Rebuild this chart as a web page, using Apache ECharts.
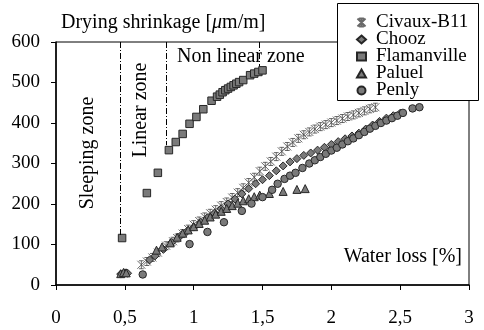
<!DOCTYPE html>
<html>
<head>
<meta charset="utf-8">
<script src="https://cdn.jsdelivr.net/npm/echarts@6/dist/echarts.min.js"></script>
<style>
  html, body { margin: 0; padding: 0; background: #fff; }
  #main { width: 484px; height: 330px; }
</style>
</head>
<body>
<div id="main"></div>
<script>
// data: [water loss %, drying shrinkage um/m]
var civaux = [[0.62,50],[0.66,58],[0.70,68],[0.74,80],[0.80,97],[0.85,108],[0.88,116],[0.92,127],[0.96,138],[1.00,149],
  [1.04,158],[1.08,168],[1.12,177],[1.16,186],[1.20,196],[1.24,205],[1.28,216],[1.32,228],[1.36,240],[1.40,253],
  [1.44,266],[1.48,281],[1.52,293],[1.56,305],[1.60,317],[1.64,330],[1.68,342],[1.72,352],[1.76,362],[1.80,371],
  [1.84,378],[1.88,385],[1.92,391],[1.96,396],[2.00,401],[2.04,406],[2.08,411],[2.12,416],[2.16,420],[2.20,425],
  [2.24,430],[2.28,435],[2.32,439]];
var chooz = [[0.47,27],[0.50,30],[0.52,29],[0.68,62],[0.72,72],[0.78,88],[0.84,105],[0.90,120],[0.95,132],[1.00,143],
  [1.05,155],[1.10,166],[1.15,177],[1.20,188],[1.25,200],[1.30,212],[1.35,225],[1.40,238],[1.45,250],[1.50,260],
  [1.55,270],[1.60,282],[1.65,294],[1.70,304],[1.75,312],[1.80,320],[1.85,326],[1.90,333],[1.95,340],[2.00,347],
  [2.05,354],[2.10,361],[2.15,368],[2.20,375],[2.25,385],[2.30,395],[2.35,404],[2.40,412],[2.45,418],[2.50,424]];
var flamanville = [[0.48,116],[0.66,227],[0.74,277],[0.82,333],[0.87,353],[0.92,373],[0.97,398],[1.02,415],[1.07,434],
  [1.13,455],[1.17,465],[1.19,470],[1.21,476],[1.23,481],[1.25,485],[1.27,489],[1.29,493],[1.31,497],[1.33,501],
  [1.36,506],[1.41,518],[1.44,522],[1.47,526],[1.50,530]];
var paluel = [[0.47,28],[0.49,31],[0.51,30],[0.73,86],[0.77,94],[0.83,104],[0.88,118],[0.92,128],[0.96,136],[1.00,144],
  [1.04,152],[1.08,160],[1.12,168],[1.16,175],[1.20,182],[1.24,189],[1.28,196],[1.32,202],[1.36,208],[1.40,213],
  [1.44,218],[1.48,222],[1.55,226],[1.65,231],[1.75,236],[1.81,238]];
var penly = [[0.63,26],[0.97,101],[1.10,131],[1.22,155],[1.35,183],[1.42,201],[1.50,217],[1.57,235],[1.61,250],
  [1.66,262],[1.70,270],[1.74,277],[1.79,289],[1.84,300],[1.88,308],[1.92,316],[1.96,324],[2.00,332],[2.04,339],
  [2.08,347],[2.12,355],[2.16,362],[2.20,370],[2.24,378],[2.28,386],[2.32,393],[2.36,400],[2.40,406],[2.44,412],
  [2.48,418],[2.52,425],[2.59,436],[2.64,439]];
// dash-dot zone separators: [x, from, to]
var zoneLines = [[0.47,600,122],[0.80,600,345],[1.48,600,540]];

var font = 'Liberation Serif';
var starPath = 'path://M0,0L10,10M10,0L0,10M5,0L5,10M2,0L8,0M2,10L8,10';

var myChart = echarts.init(document.getElementById('main'));

function mk(name, data, symbol, size) {
  return {
    name: name,
    type: 'scatter',
    data: data,
    symbol: symbol,
    symbolSize: size,
    itemStyle: { color: '#7a7a7a', borderColor: '#262626', borderWidth: 1, opacity: 1 }
  };
}

var series = [
  mk('Civaux-B11', civaux, starPath, 8),
  mk('Chooz', chooz, 'diamond', 8),
  mk('Flamanville', flamanville, 'rect', 7.5),
  mk('Paluel', paluel, 'triangle', 8),
  mk('Penly', penly, 'circle', 7.5)
];
series[0].itemStyle = { color: '#888', borderColor: '#444', borderWidth: 1 };
series[2].markLine = {
  silent: true,
  symbol: 'none',
  label: { show: false },
  lineStyle: { color: '#000', width: 1, type: [6, 2, 1, 2] },
  data: zoneLines.map(function (l) { return [{ coord: [l[0], l[1]] }, { coord: [l[0], l[2]] }]; })
};

var txt = function (s) { return { text: s, font: '20px "Liberation Serif"', fill: '#000' }; };

var option = {
  animation: false,
  title: {
    text: 'Drying shrinkage [{i|μ}m/m]',
    left: 61,
    top: 13,
    padding: 0,
    textStyle: {
      fontFamily: font, fontSize: 20, fontWeight: 'normal', color: '#000',
      rich: { i: { fontFamily: font, fontSize: 20, fontStyle: 'italic', color: '#000' } }
    }
  },
  legend: {
    orient: 'vertical',
    left: 356,
    top: 13,
    padding: 0,
    itemGap: -2,
    itemWidth: 9,
    itemHeight: 8,
    textStyle: { fontFamily: font, fontSize: 19, color: '#000', lineHeight: 18, padding: [0, 0, 0, 5] },
    data: ['Civaux-B11', 'Chooz', 'Flamanville', 'Paluel', 'Penly']
  },
  grid: {
    left: 56, right: 15, top: 42, bottom: 45,
    show: true, borderColor: '#000', borderWidth: 1
  },
  xAxis: {
    type: 'value', min: 0, max: 3, interval: 0.5,
    axisLine: { onZero: false, lineStyle: { color: '#000', width: 1.5 } },
    axisTick: { inside: false, length: 5, lineStyle: { color: '#000' } },
    axisLabel: {
      margin: 24, fontFamily: font, fontSize: 19, color: '#000',
      formatter: function (v) { return String(v).replace('.', ','); }
    },
    splitLine: { show: false }
  },
  yAxis: {
    type: 'value', min: 0, max: 600, interval: 100,
    axisLine: { show: true, lineStyle: { color: '#000', width: 1.5 } },
    axisTick: { show: true, inside: false, length: 5, lineStyle: { color: '#000' } },
    axisLabel: { margin: 16, fontFamily: font, fontSize: 19, color: '#000' },
    splitLine: { show: false }
  },
  graphic: [
    { type: 'rect', z: 3, shape: { x: 337.5, y: 3.5, width: 141, height: 97 },
      style: { fill: '#fff', stroke: '#000', lineWidth: 1 } },
    { type: 'text', z: 5, x: 462, y: 257,
      style: Object.assign(txt('Water loss [%]'), { align: 'right', verticalAlign: 'middle' }) },
    { type: 'text', z: 5, x: 177, y: 57,
      style: Object.assign(txt('Non linear zone'), { align: 'left', verticalAlign: 'middle' }) },
    { type: 'text', z: 5, x: 141, y: 110, rotation: Math.PI / 2,
      style: Object.assign(txt('Linear zone'), { align: 'center', verticalAlign: 'middle' }) },
    { type: 'text', z: 5, x: 88, y: 153, rotation: Math.PI / 2,
      style: Object.assign(txt('Sleeping zone'), { align: 'center', verticalAlign: 'middle' }) }
  ],
  series: series
};

myChart.setOption(option);
</script>
</body>
</html>
